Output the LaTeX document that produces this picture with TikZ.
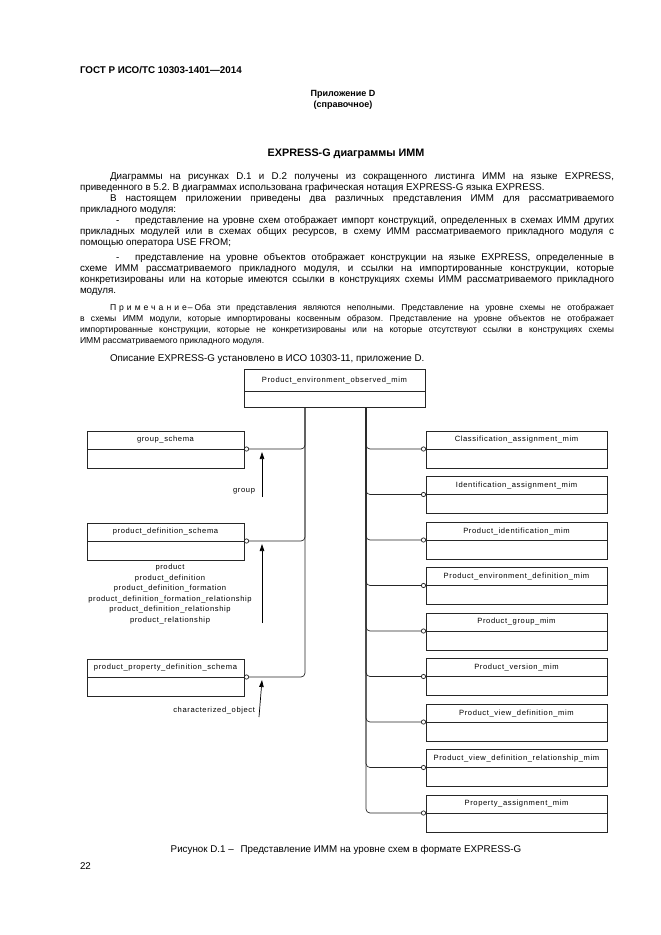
\documentclass[tikz,border=0pt]{standalone}
\usepackage{fontspec}
\setmainfont{Liberation Sans}
\newfontfamily\boxfont[LetterSpace=8]{Liberation Sans}
\newfontfamily\spacedfont[LetterSpace=35]{Liberation Sans}
\usetikzlibrary{arrows.meta,positioning}
\frenchspacing

\begin{document}
\begin{tikzpicture}[x=1pt, y=-1pt, inner sep=0pt, outer sep=0pt,
  body/.style={anchor=base west, font=\fontsize{9.8}{11}\selectfont},
  notetext/.style={anchor=base west, font=\fontsize{8.6}{10}\selectfont},
  label/.style={font=\boxfont\fontsize{7.6}{10.5}\selectfont},
  upbox/.style={draw=black!85, line width=0.7pt, minimum height=18pt, font=\boxfont\fontsize{7.6}{9}\selectfont},
  lowbox/.style={draw=black!85, line width=0.7pt, minimum height=19pt},
  link/.style={draw=black!85, line width=0.7pt, rounded corners=4pt, -{Circle[open, length=5pt, width=5pt]}},
  ref/.style={line width=0.7pt, -{Triangle[length=7pt, width=4.5pt]}}]
\useasboundingbox (0,0) rectangle (661,935);

% page head
\node[anchor=base west, font=\bfseries\fontsize{9.8}{11}\selectfont] (gost) at (80,73.5) {ГОСТ Р ИСО/ТС 10303-1401—2014};
\node[anchor=base, font=\bfseries\fontsize{9}{11}\selectfont] (app) at (343,96.5) {Приложение D};
\node[anchor=base, font=\bfseries\fontsize{9}{11}\selectfont] (kind) at (343,107.5) {(справочное)};
\node[anchor=base, font=\bfseries\fontsize{10.8}{12}\selectfont] (title) at (346,156) {EXPRESS-G диаграммы ИММ};

% body text
\node[body] (t1) at (110,179.5) {\makebox[504pt][s]{Диаграммы на рисунках D.1 и D.2 получены из сокращенного листинга ИММ на языке EXPRESS,}};
\node[body] (t2) at (80,190.5) {приведенного в 5.2. В диаграммах использована графическая нотация EXPRESS-G языка EXPRESS.};
\node[body] (t3) at (110,201.5) {\makebox[504pt][s]{В настоящем приложении приведены два различных представления ИММ для рассматриваемого}};
\node[body] (t4) at (80,212.5) {прикладного модуля:};
\node[body] (d1) at (116,223.5) {-};
\node[body] (t5) at (135,223.5) {\makebox[479pt][s]{представление на уровне схем отображает импорт конструкций, определенных в схемах ИММ других}};
\node[body] (t6) at (80,234.5) {\makebox[534pt][s]{прикладных модулей или в схемах общих ресурсов, в схему ИММ рассматриваемого прикладного модуля с}};
\node[body] (t7) at (80,245.5) {помощью оператора USE FROM;};
\node[body] (d2) at (116,260.5) {-};
\node[body] (t8) at (135,260.5) {\makebox[479pt][s]{представление на уровне объектов отображает конструкции на языке EXPRESS, определенные в}};
\node[body] (t9) at (80,271.5) {\makebox[534pt][s]{схеме ИММ рассматриваемого прикладного модуля, и ссылки на импортированные конструкции, которые}};
\node[body] (t10) at (80,282.5) {\makebox[534pt][s]{конкретизированы или на которые имеются ссылки в конструкциях схемы ИММ рассматриваемого прикладного}};
\node[body] (t11) at (80,293.5) {модуля.};

% note
\node[notetext] (n1) at (110,310) {\makebox[504pt][s]{{\spacedfont Примечание}\hspace{1pt}–\hspace{2pt}Оба эти представления являются неполными. Представление на уровне схемы не отображает}};
\node[notetext] (n2) at (80,321) {\makebox[534pt][s]{в схемы ИММ модули, которые импортированы косвенным образом. Представление на уровне объектов не отображает}};
\node[notetext] (n3) at (80,332) {\makebox[534pt][s]{импортированные конструкции, которые не конкретизированы или на которые отсутствуют ссылки в конструкциях схемы}};
\node[notetext] (n4) at (80,343) {ИММ рассматриваемого прикладного модуля.};

\node[body] (t12) at (110,361.5) {Описание EXPRESS-G установлено в ИСО 10303-11, приложение D.};

% schema in the middle
\node[upbox, minimum width=181pt, minimum height=22pt, anchor=north west] (pem) at (244,369) {Product\_environment\_observed\_mim};
\node[lowbox, minimum width=181pt, minimum height=16pt, below=0pt of pem] (peml) {};
\coordinate (lbus) at (305,407);
\coordinate (rbus) at (366,407);

% schemas on the left
\node[upbox, minimum width=157pt, anchor=north west] (gs) at (87,431) {group\_schema};
\node[lowbox, minimum width=157pt, below=0pt of gs] (gsl) {};
\node[upbox, minimum width=157pt, anchor=north west] (pds) at (87,523) {product\_definition\_schema};
\node[lowbox, minimum width=157pt, below=0pt of pds] (pdsl) {};
\node[upbox, minimum width=157pt, anchor=north west] (ppds) at (87,659) {product\_property\_definition\_schema};
\node[lowbox, minimum width=157pt, below=0pt of ppds] (ppdsl) {};

\draw[link] (lbus) |- (gs.south east);
\draw[link] (lbus) |- (pds.south east);
\draw[link] (lbus) |- (ppds.south east);

% imported items
\coordinate (ga) at (262,497);
\coordinate (gb) at (262,452);
\draw[ref] (ga) -- (gb);
\node[label, anchor=east] (glab) at (255,491) {group};
\coordinate (pa) at (262,623);
\coordinate (pb) at (262,544);
\draw[ref] (pa) -- (pb);
\node[label, align=center, anchor=north] (plab) at (170,564) {product\\product\_definition\\product\_definition\_formation\\product\_definition\_formation\_relationship\\product\_definition\_relationship\\product\_relationship};
\coordinate (ca) at (259,717);
\coordinate (cb) at (262,680);
\draw[ref] (ca) -- (cb);
\node[label, anchor=east] (clab) at (255,711) {characterized\_object};

% schemas on the right
\node[upbox, minimum width=181pt, anchor=north west] (cam) at (426,431) {Classification\_assignment\_mim};
\node[lowbox, minimum width=181pt, below=0pt of cam] (caml) {};
\node[upbox, minimum width=181pt, anchor=north west] (iam) at (426,476.5) {Identification\_assignment\_mim};
\node[lowbox, minimum width=181pt, below=0pt of iam] (iaml) {};
\node[upbox, minimum width=181pt, anchor=north west] (pim) at (426,522) {Product\_identification\_mim};
\node[lowbox, minimum width=181pt, below=0pt of pim] (piml) {};
\node[upbox, minimum width=181pt, anchor=north west] (pedm) at (426,567.5) {Product\_environment\_definition\_mim};
\node[lowbox, minimum width=181pt, below=0pt of pedm] (pedml) {};
\node[upbox, minimum width=181pt, anchor=north west] (pgm) at (426,613) {Product\_group\_mim};
\node[lowbox, minimum width=181pt, below=0pt of pgm] (pgml) {};
\node[upbox, minimum width=181pt, anchor=north west] (pvm) at (426,658.5) {Product\_version\_mim};
\node[lowbox, minimum width=181pt, below=0pt of pvm] (pvml) {};
\node[upbox, minimum width=181pt, anchor=north west] (pvdm) at (426,704) {Product\_view\_definition\_mim};
\node[lowbox, minimum width=181pt, below=0pt of pvdm] (pvdml) {};
\node[upbox, minimum width=181pt, anchor=north west] (pvdrm) at (426,749.5) {Product\_view\_definition\_relationship\_mim};
\node[lowbox, minimum width=181pt, below=0pt of pvdrm] (pvdrml) {};
\node[upbox, minimum width=181pt, anchor=north west] (pam) at (426,795) {Property\_assignment\_mim};
\node[lowbox, minimum width=181pt, below=0pt of pam] (paml) {};

\draw[link] (rbus) |- (cam.south west);
\draw[link] (rbus) |- (iam.south west);
\draw[link] (rbus) |- (pim.south west);
\draw[link] (rbus) |- (pedm.south west);
\draw[link] (rbus) |- (pgm.south west);
\draw[link] (rbus) |- (pvm.south west);
\draw[link] (rbus) |- (pvdm.south west);
\draw[link] (rbus) |- (pvdrm.south west);
\draw[link] (rbus) |- (pam.south west);

% caption and page number
\node[body, anchor=base] (cap) at (346,852) {Рисунок D.1 –\hspace{4pt} Представление ИММ на уровне схем в формате EXPRESS-G};
\node[body] (page) at (80,869.5) {22};
\end{tikzpicture}
\end{document}
